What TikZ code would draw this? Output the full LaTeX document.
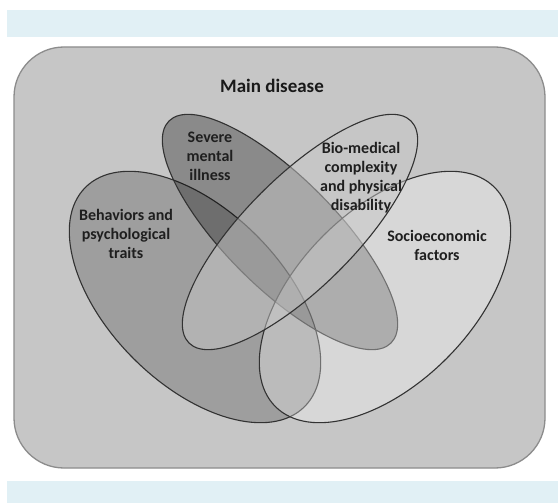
\documentclass[tikz,border=0pt]{standalone}
\usepackage{fontspec}
\setmainfont{Carlito}
\usetikzlibrary{shapes.geometric}
\definecolor{bandblue}{RGB}{225,240,245}
\definecolor{boxgray}{RGB}{198,198,198}
\definecolor{boxedge}{RGB}{140,140,140}
\definecolor{outline}{RGB}{50,50,50}
\begin{document}
\begin{tikzpicture}[x=1pt, y=-1pt, set/.style={ellipse, draw=outline, line width=1.1pt, inner sep=0pt}, lbl/.style={align=center, font=\bfseries\fontsize{16}{19}\selectfont, text=black!88, inner sep=0pt}]
	\fill[white] (0,0) rectangle (558,503);
	\useasboundingbox (0,0) rectangle (558,503);
	\fill[bandblue] (7,10) rectangle (558,37);
	\fill[bandblue] (7,481) rectangle (558,503);
	\node(frame)[draw=boxedge, fill=boxgray, line width=1.3pt, rounded corners=50pt, minimum width=531pt, minimum height=421pt, inner sep=0pt] at (279.5,257.5){};
	% the four sets, later ones lie over earlier ones
	\node(behav)[set, fill=black, fill opacity=0.2, minimum width=310pt, minimum height=174pt, rotate=-45] at (195,297){};
	\node(severe)[set, fill=black, fill opacity=0.3, minimum width=314pt, minimum height=110pt, rotate=-45] at (280,232){};
	\node(socio)[set, fill=white, fill opacity=0.3, minimum width=310pt, minimum height=174pt, rotate=45] at (385,297){};
	\node(biomed)[set, fill=boxgray, fill opacity=0.5, minimum width=314pt, minimum height=110pt, rotate=45] at (300,232){};
	% labels
	\node(title)[font=\bfseries\fontsize{19}{23}\selectfont, text=black!90] at (272,86){Main disease};
	\node(behavtxt)[lbl] at (126,234){Behaviors and\\psychological\\traits};
	\node(severetxt)[lbl] at (210,156){Severe\\mental\\illness};
	\node(biomedtxt)[lbl] at (361,178){Bio-medical\\complexity\\and physical\\disability};
	\node(sociotxt)[lbl] at (437,245){Socioeconomic\\factors};
\end{tikzpicture}
\end{document}
